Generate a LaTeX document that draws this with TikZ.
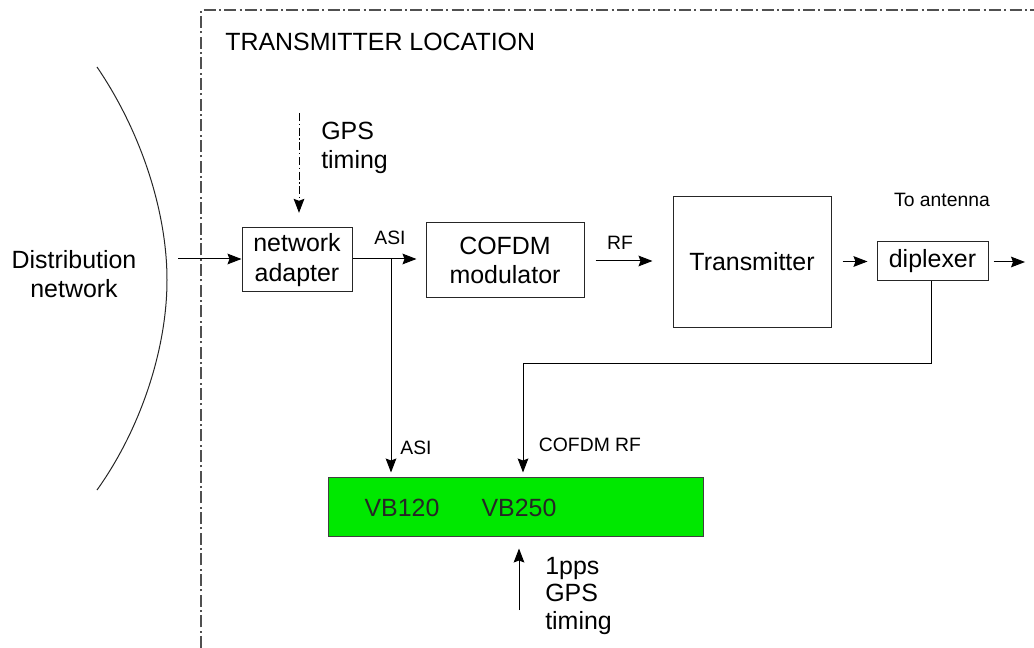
\documentclass[tikz,border=0pt]{standalone}
\usepackage{fontspec}
\setmainfont{Liberation Sans}
\usetikzlibrary{arrows.meta}
\definecolor{vbgreen}{RGB}{0,232,0}
\definecolor{bordergray}{RGB}{80,80,80}
\begin{document}
\begin{tikzpicture}[x=0.75pt,y=-0.75pt,
  bigtxt/.style={font=\fontsize{18.7}{22}\selectfont, inner sep=0pt},
  smalltxt/.style={font=\fontsize{14.5}{17}\selectfont, inner sep=0pt},
  blk/.style={draw=black!85, line width=0.75pt, inner sep=0pt, align=center,
              font=\fontsize{18.7}{22}\selectfont},
  conn/.style={line width=0.75pt, -{Stealth[length=10.5pt,width=8pt,inset=1.5pt]}},
  dashdot/.style={line width=0.9pt, dash pattern=on 9pt off 2.5pt on 1.5pt off 2.5pt}]
\useasboundingbox (0,0) rectangle (1034,648);

% transmitter location border
\coordinate (b1) at (201,648);
\coordinate (b2) at (201,10);
\coordinate (b3) at (1034,10);
\draw[dashdot, draw=bordergray] (b1) -- (b2) -- (b3);
\node[bigtxt, anchor=west] (loc) at (225,42) {TRANSMITTER LOCATION};

% distribution network
\coordinate (a1) at (97,67);
\coordinate (a2) at (167,280);
\coordinate (a3) at (97,490);
\draw[line width=0.75pt, black!85] (a1) .. controls (140,130) and (167,210) .. (a2)
      .. controls (167,350) and (140,430) .. (a3);
\node[bigtxt, align=center] (dn) at (74,274) {Distribution\\network};

% blocks
\node[blk, minimum width=82.5pt, minimum height=48pt] (na) at (297,260) {network\\adapter};
\node[blk, minimum width=118.5pt, minimum height=56.25pt] (cm) at (505,260.5) {COFDM\\modulator};
\node[blk, minimum width=118.5pt, minimum height=97.5pt] (tx) at (752,262) {Transmitter};
\node[blk, minimum width=83.25pt, minimum height=29.25pt] (dp) at (932.5,261.5) {diplexer};
\node[draw=black!75, fill=vbgreen, line width=0.75pt, minimum width=281.25pt, minimum height=44.25pt, inner sep=0pt] (vb) at (515.5,506.5) {};
\node[bigtxt, text=black!85] (vb1) at (402,508) {VB120};
\node[bigtxt, text=black!85] (vb2) at (519,508) {VB250};

% input
\coordinate (din) at (178,259);
\draw[conn] (din) -- (din -| na.west);

% GPS timing to network adapter
\coordinate (gps) at (299,113);
\draw[conn, dash pattern=on 6pt off 2pt on 1pt off 2pt, shorten >=11pt] (gps) -- (gps |- na.north);
\node[bigtxt, anchor=west, align=left] (gpst) at (321,148) {GPS\\timing};

% ASI
\draw[conn, shorten >=6.75pt] (na.east |- din) -- (din -| cm.west);
\node[smalltxt] (asi1) at (390,238) {ASI};
\coordinate (j1) at (391,259);
\draw[conn, shorten >=3pt] (j1) -- (j1 |- vb.north);
\node[smalltxt] (asi2) at (416,448) {ASI};

% RF
\coordinate (rf) at (595,261);
\draw[conn, shorten <=8.25pt, shorten >=15pt] (cm.east |- rf) -- (rf -| tx.west);
\node[smalltxt] (rft) at (620,243) {RF};

% transmitter to diplexer
\draw[conn, shorten <=8.25pt, shorten >=6.75pt] (tx.east |- dp.west) -- (dp.west);

% to antenna
\coordinate (ant) at (1025,262);
\draw[conn, shorten <=3.75pt] (dp.east |- ant) -- (ant);
\node[smalltxt] (antt) at (942,200) {To antenna};

% COFDM RF feedback
\coordinate (f1) at (931,363);
\coordinate (f2) at (523,363);
\draw[conn, shorten >=3pt] (f1 |- dp.south) -- (f1) -- (f2) -- (f2 |- vb.north);
\node[smalltxt] (cofrf) at (590,445) {COFDM RF};

% 1pps
\coordinate (pps) at (519,610);
\draw[conn, shorten >=9pt] (pps) -- (pps |- vb.south);
\node[bigtxt, anchor=west, align=left, font=\fontsize{18.7}{20.5}\selectfont] (ppst) at (545,596) {1pps\\GPS\\timing};
\end{tikzpicture}
\end{document}
